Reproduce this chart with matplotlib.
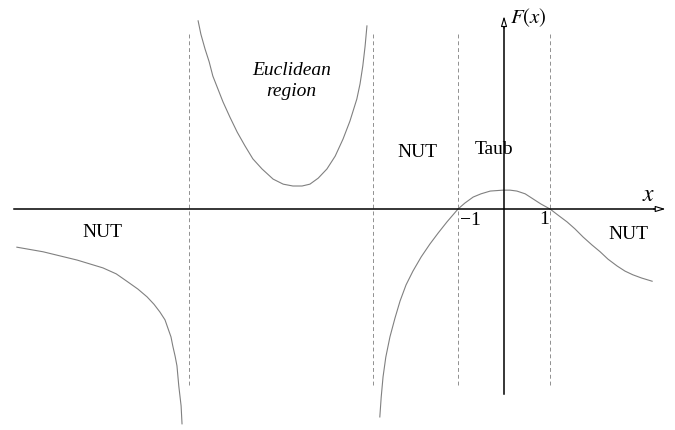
import matplotlib
matplotlib.use("Agg")
import matplotlib.pyplot as plt

plt.rcParams['font.family'] = ['Liberation Serif', 'DejaVu Serif']

# F(x) sampled on its three branches
x_left = [-10.59, -10.02, -9.28, -8.72, -8.43, -8.20, -7.96, -7.76, -7.61, -7.48,
          -7.37, -7.30, -7.24, -7.20, -7.15, -7.11, -7.07, -7.02, -7.00]
F_left = [-0.83, -0.93, -1.11, -1.28, -1.41, -1.57, -1.74, -1.91, -2.07, -2.24,
          -2.41, -2.61, -2.78, -2.98, -3.20, -3.41, -3.85, -4.28, -4.67]

x_eucl = [-6.65, -6.59, -6.50, -6.41, -6.33, -6.22, -6.11, -5.96, -5.80, -5.63,
          -5.46, -5.26, -5.02, -4.80, -4.59, -4.39, -4.22, -4.04, -3.85, -3.67,
          -3.50, -3.35, -3.20, -3.13, -3.07, -3.02, -2.98]
F_eucl = [4.09, 3.80, 3.48, 3.20, 2.89, 2.61, 2.33, 2.00, 1.67, 1.37,
          1.09, 0.87, 0.65, 0.54, 0.50, 0.50, 0.54, 0.67, 0.87, 1.15,
          1.52, 1.91, 2.39, 2.72, 3.11, 3.54, 3.98]

x_right = [-2.70, -2.67, -2.63, -2.57, -2.48, -2.37, -2.26, -2.13, -1.98, -1.80,
           -1.61, -1.43, -1.24, -1.00, -0.85, -0.67, -0.50, -0.30, -0.02, 0.13,
           0.28, 0.46, 0.63, 0.80, 1.00, 1.17, 1.37, 1.54, 1.72, 1.91,
           2.09, 2.26, 2.46, 2.63, 2.80, 2.99, 3.22]
F_right = [-4.52, -4.09, -3.65, -3.22, -2.78, -2.37, -2.00, -1.65, -1.35, -1.04,
           -0.76, -0.52, -0.28, 0.00, 0.13, 0.26, 0.33, 0.39, 0.41, 0.41,
           0.39, 0.33, 0.22, 0.11, 0.00, -0.13, -0.28, -0.43, -0.61, -0.78,
           -0.93, -1.09, -1.24, -1.35, -1.43, -1.50, -1.57]

# poles / roots marked with dashed lines
x_marks = [-6.85, -2.85, -1.0, 1.0]

region_labels = ['NUT', 'NUT', 'Taub', 'NUT']
region_pos = [(-8.74, -0.48), (-1.89, 1.26), (-0.22, 1.32), (2.70, -0.54)]

fig = plt.figure(figsize=(6.75, 4.31), dpi=100)
ax = fig.add_axes([0, 0, 1, 1])
ax.set_xlim(-10.957, 3.717)
ax.set_ylim(-4.804, 4.565)
ax.axis('off')

curve_kw = dict(color='#808080', lw=0.8)
ax.plot(x_left, F_left, **curve_kw)
ax.plot(x_eucl, F_eucl, **curve_kw)
ax.plot(x_right, F_right, **curve_kw)

for xm in x_marks:
    ax.plot([xm, xm], [-3.83, 3.85], color='#909090', lw=0.7, dashes=(4, 3))

# coordinate axes with open arrow heads
ax.plot([-10.65, 3.40], [0, 0], color='black', lw=1.1)
ax.plot([0, 0], [-4.02, 4.05], color='black', lw=1.1)
arrow_kw = dict(arrowstyle='-|>,head_length=0.6,head_width=0.18', fc='white', ec='black',
                lw=0.8, shrinkA=0, shrinkB=0)
ax.annotate('', xy=(3.51, 0), xytext=(3.25, 0), arrowprops=arrow_kw)
ax.annotate('', xy=(0, 4.19), xytext=(0, 3.93), arrowprops=arrow_kw)

ax.text(0.53, 4.19, '$F(x)$', fontsize=15, ha='center', va='center',
        math_fontfamily='stix')
ax.text(3.14, 0.32, '$x$', fontsize=17, ha='center', va='center', math_fontfamily='stix')
ax.text(-0.72, -0.22, '\u22121', fontsize=14, ha='center', va='center')
ax.text(0.88, -0.20, '1', fontsize=14, ha='center', va='center')

for lab, (lx, ly) in zip(region_labels, region_pos):
    ax.text(lx, ly, lab, fontsize=14, ha='center', va='center')

ax.text(-4.62, 2.80, 'Euclidean\nregion', fontsize=14, style='italic', ha='center',
        va='center', linespacing=1.35)

fig.savefig('out.png', dpi=100)
